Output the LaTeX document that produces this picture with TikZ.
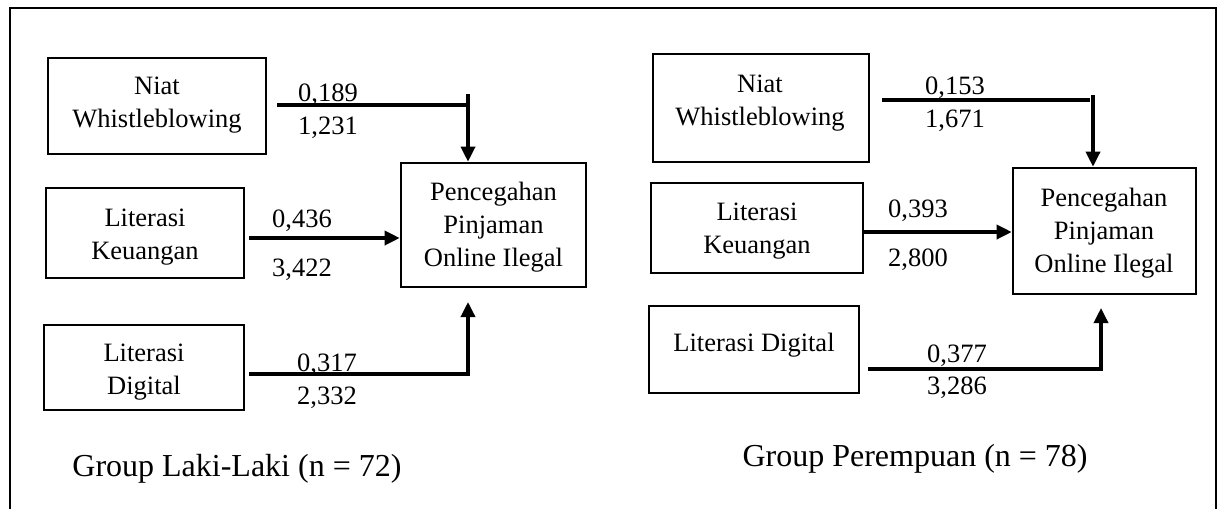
\documentclass[tikz,border=0pt]{standalone}
\usepackage{fontspec}
\setmainfont{Liberation Serif}
\usetikzlibrary{arrows.meta}
\begin{document}
\begin{tikzpicture}[x=0.5pt,y=-0.5pt,
  box/.style={draw,line width=1.3pt,inner sep=0pt},
  txt/.style={inner sep=0pt,align=center,font=\fontsize{13.25}{16.5}\selectfont},
  num/.style={inner sep=0pt,anchor=base,font=\fontsize{13.25}{16.5}\selectfont},
  grp/.style={inner sep=0pt,font=\fontsize{16}{19}\selectfont},
  wire/.style={line width=1.7pt},
  arr/.style={line width=1.7pt,-{Triangle[length=7.5pt,width=7pt]}}]
\useasboundingbox (0,0) rectangle (1219,509);

% outer frame, open at the bottom
\draw[line width=1pt] (10,509) -- (10,8) -- (1216,8) -- (1216,509);

% ---------- male group ----------
\node[box,minimum width=109pt,minimum height=48pt]   (niatL) at (157,106)   {};
\node[box,minimum width=99pt,minimum height=45pt]    (keuL)  at (145,233)   {};
\node[box,minimum width=100pt,minimum height=42.5pt] (digL)  at (144,367.5) {};
\node[box,minimum width=92.5pt,minimum height=62pt]  (outL)  at (493.5,225) {};

\node[txt] (niatLt) at (157,105)   {Niat\\Whistleblowing};
\node[txt] (keuLt)  at (145,237)   {Literasi\\Keuangan};
\node[txt] (digLt)  at (144,372)   {Literasi\\Digital};
\node[txt] (outLt)  at (493.5,227) {Pencegahan\\Pinjaman\\Online Ilegal};

\coordinate (sL1) at (277,105);
\coordinate (kL1) at (468,105);
\coordinate (tL1) at (468,94);
\draw[wire] (sL1) -- (kL1);
\draw[arr] (tL1) -- (tL1 |- outL.north);

\coordinate (sL2) at (249,238);
\draw[arr] (sL2) -- (sL2 -| outL.west);

\coordinate (sL3) at (249,374);
\coordinate (eL3) at (468,302);
\draw[arr] (sL3) -- (sL3 -| eL3) -- (eL3);

\node[num] (bL1) at (328,101) {0,189};
\node[num] (tvL1) at (328,134) {1,231};
\node[num] (bL2) at (302,227) {0,436};
\node[num] (tvL2) at (302,276) {3,422};
\node[num] (bL3) at (327,371) {0,317};
\node[num] (tvL3) at (327,404) {2,332};

\node[grp,anchor=base west] (gL) at (72,476) {Group Laki-Laki (n = 72)};

% ---------- female group ----------
\node[box,minimum width=108pt,minimum height=54pt]   (niatR) at (761,108)    {};
\node[box,minimum width=106pt,minimum height=45pt]   (keuR)  at (757,228)    {};
\node[box,minimum width=105pt,minimum height=43.5pt] (digR)  at (754,349.5)  {};
\node[box,minimum width=91.5pt,minimum height=63pt]  (outR)  at (1104.5,231) {};

\node[txt] (niatRt) at (760,103)  {Niat\\Whistleblowing};
\node[txt] (keuRt)  at (757,231)  {Literasi\\Keuangan};
\node[txt] (digRt)  at (754,345)  {Literasi Digital};
\node[txt] (outRt)  at (1104,233) {Pencegahan\\Pinjaman\\Online Ilegal};

\coordinate (sR1) at (882,100);
\coordinate (kR1) at (1090,100);
\coordinate (tR1) at (1093,95);
\draw[wire] (sR1) -- (kR1);
\draw[arr] (tR1) -- (tR1 |- outR.north);

\coordinate (sR2) at (862,232);
\draw[arr] (sR2) -- (sR2 -| outR.west);

\coordinate (sR3) at (868,369);
\coordinate (eR3) at (1101,308);
\draw[arr] (sR3) -- (sR3 -| eR3) -- (eR3);

\node[num] (bR1) at (955,94)  {0,153};
\node[num] (tvR1) at (955,127) {1,671};
\node[num] (bR2) at (918,217) {0,393};
\node[num] (tvR2) at (918,266) {2,800};
\node[num] (bR3) at (957,362) {0,377};
\node[num] (tvR3) at (957,394) {3,286};

\node[grp,anchor=base east] (gR) at (1088,466) {Group Perempuan (n = 78)};
\end{tikzpicture}
\end{document}
